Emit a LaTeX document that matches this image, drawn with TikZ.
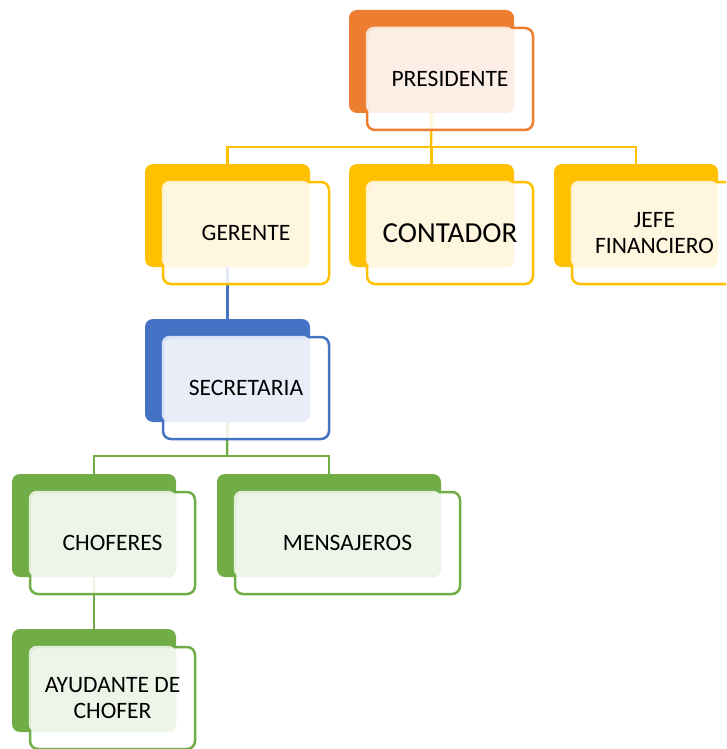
\documentclass[tikz,border=0pt]{standalone}
\usepackage{fontspec}
\setmainfont{Carlito}
\begin{document}
\begin{tikzpicture}[x=1pt,y=-1pt,
  backbox/.style={rounded corners=8pt, inner sep=0pt, minimum height=103pt, draw=none},
  frontbox/.style={rounded corners=8pt, inner sep=0pt, minimum height=102pt, line width=2.5pt, fill=white, fill opacity=0.85},
  lbl/.style={font=\fontsize{23.5}{25.5}\selectfont, align=center, text=black},
  conn/.style={line width=2.5pt}]
\definecolor{corange}{HTML}{ED7D31}
\definecolor{cyellow}{HTML}{FFC000}
\definecolor{cblue}{HTML}{4472C4}
\definecolor{cgreen}{HTML}{70AD47}
\useasboundingbox (0,0) rectangle (726,749);
\clip (0,0) rectangle (726,749);
% #1 name, #2 left, #3 top, #4 width, #5 colour, #6 text, #7 font
\newcommand{\orgbox}[7]{%
  \node[backbox, fill=#5, minimum width=#4pt] (#1b) at ({#2+#4/2},{#3+51.5}) {};
  \node[frontbox, draw=#5, minimum width={#4pt+1pt}] (#1f) at ({#2+18+(#4+1)/2},{#3+18+51}) {};
  \fill[#5!12, fill opacity=0.9, rounded corners=8pt] (#1f.north west) rectangle (#1b.south east);
  \node[lbl, font=#7] (#1t) at (#1f.center) {#6};
}
% coordinates for connectors (named)
\coordinate (bus1) at (431,147);
\coordinate (bus2) at (227,456);
% placeholders for node geometry so connectors can be drawn first
\begin{scope}[opacity=0]
\node[backbox, minimum width=165pt] (presb) at (431.5,61.5) {};
\node[backbox, minimum width=165pt] (gerb) at (227.5,215.5) {};
\node[backbox, minimum width=165pt] (contb) at (431.5,215.5) {};
\node[backbox, minimum width=164pt] (jefb) at (636,215.5) {};
\node[backbox, minimum width=165pt] (secb) at (227.5,370.5) {};
\node[backbox, minimum width=164pt] (chob) at (94,525.5) {};
\node[backbox, minimum width=224pt] (menb) at (329,525.5) {};
\node[backbox, minimum width=164pt] (ayub) at (94,680.5) {};
\end{scope}
% connectors
\draw[conn, cyellow] (presb.south) -- (bus1);
\draw[conn, cyellow] (gerb.north) |- (bus1) -| (jefb.north);
\draw[conn, cyellow] (contb.north) -- (contb.north |- bus1);
\draw[conn, cblue] (gerb.south) -- (secb.north);
\draw[conn, cgreen] (secb.south) -- (bus2);
\draw[conn, cgreen] (chob.north) |- (bus2) -| (menb.north);
\draw[conn, cgreen] (chob.south) -- (ayub.north);
% boxes
\orgbox{pres}{349}{10}{165}{corange}{PRESIDENTE}{\fontsize{23.5}{25.5}\selectfont}
\orgbox{ger}{145}{164}{165}{cyellow}{GERENTE}{\fontsize{23.5}{25.5}\selectfont}
\orgbox{cont}{349}{164}{165}{cyellow}{CONTADOR}{\fontsize{29}{32}\selectfont}
\orgbox{jef}{554}{164}{164}{cyellow}{JEFE\\FINANCIERO}{\fontsize{23.5}{25.5}\selectfont}
\orgbox{sec}{145}{319}{165}{cblue}{SECRETARIA}{\fontsize{23.5}{25.5}\selectfont}
\orgbox{cho}{12}{474}{164}{cgreen}{CHOFERES}{\fontsize{23.5}{25.5}\selectfont}
\orgbox{men}{217}{474}{224}{cgreen}{MENSAJEROS}{\fontsize{23.5}{25.5}\selectfont}
\orgbox{ayu}{12}{629}{164}{cgreen}{AYUDANTE DE\\CHOFER}{\fontsize{23.5}{25.5}\selectfont}
\end{tikzpicture}
\end{document}
